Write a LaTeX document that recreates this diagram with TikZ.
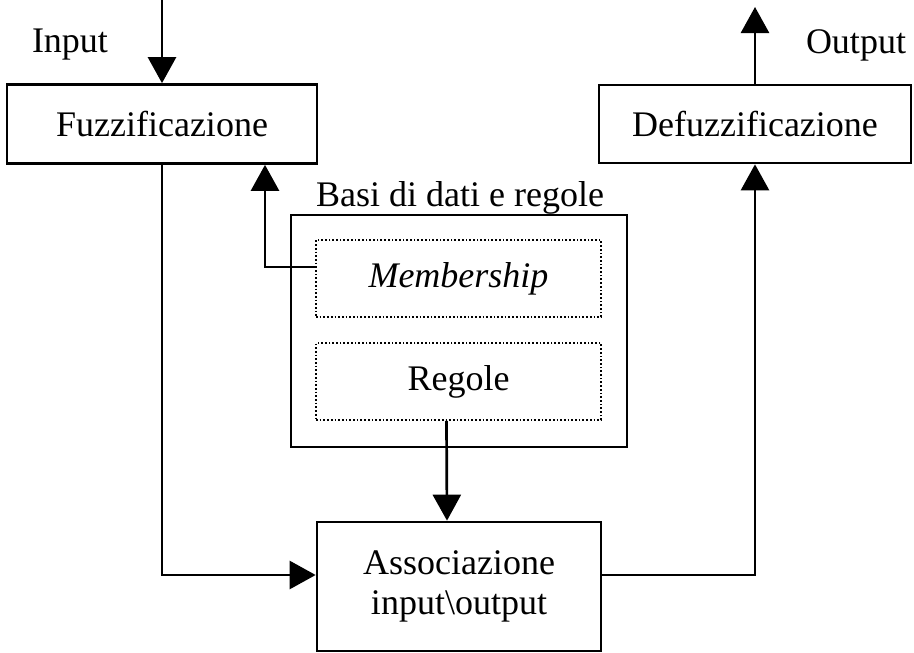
\documentclass[tikz,border=0pt]{standalone}
\usepackage{fontspec}
\setmainfont{Liberation Serif}
\usetikzlibrary{arrows.meta}
\begin{document}
\begin{tikzpicture}[x=1pt,y=-1pt,
  every node/.style={font=\fontsize{36}{40}\selectfont, inner sep=0pt},
  block/.style={draw, line width=2.7pt, minimum width=#1, align=center},
  inbox/.style={draw, line width=1.7pt, dash pattern=on 1.7pt off 2pt,
                minimum width=285pt, minimum height=77pt},
  link/.style={line width=2.7pt, -{Triangle[length=26pt,width=28pt]}}]
\useasboundingbox (0,0) rectangle (914,653);

% main processing blocks
\node[block=310pt, minimum height=79pt] (fuzz) at (162,124) {Fuzzificazione};
\node[block=312pt, minimum height=78pt] (defuzz) at (755,124) {Defuzzificazione};
\node[block=336pt, minimum height=232pt] (kb) at (459,331) {};
\node[anchor=south] (kbt) at (460,214) {Basi di dati e regole};
\node[inbox] (memb) at (458.5,278.5) {\itshape Membership};
\node[inbox] (rules) at (458.5,381.5) {Regole};
\node[block=284pt, minimum height=129pt]
  (assoc) at (459,586.5) {Associazione\\[0pt]input\textbackslash output};

% external labels
\node (inl) at (70,45) {Input};
\node (outl) at (856,45) {Output};

% signal flow
\coordinate (src) at (162,0);
\coordinate (dst) at (755,7);
\draw[link] (src) -- (fuzz.north);
\draw[link] (defuzz.north) -- (dst);
\draw[link] (fuzz.south) |- ([yshift=11.5pt]assoc.west);
\draw[link] ([yshift=11.5pt]assoc.east) -| (defuzz.south);
\draw[link] ([yshift=11.5pt]memb.west) -| ([xshift=103pt]fuzz.south);
\draw[link] ([xshift=-12pt]rules.south) -- ([xshift=-12pt]assoc.north);
\end{tikzpicture}
\end{document}
